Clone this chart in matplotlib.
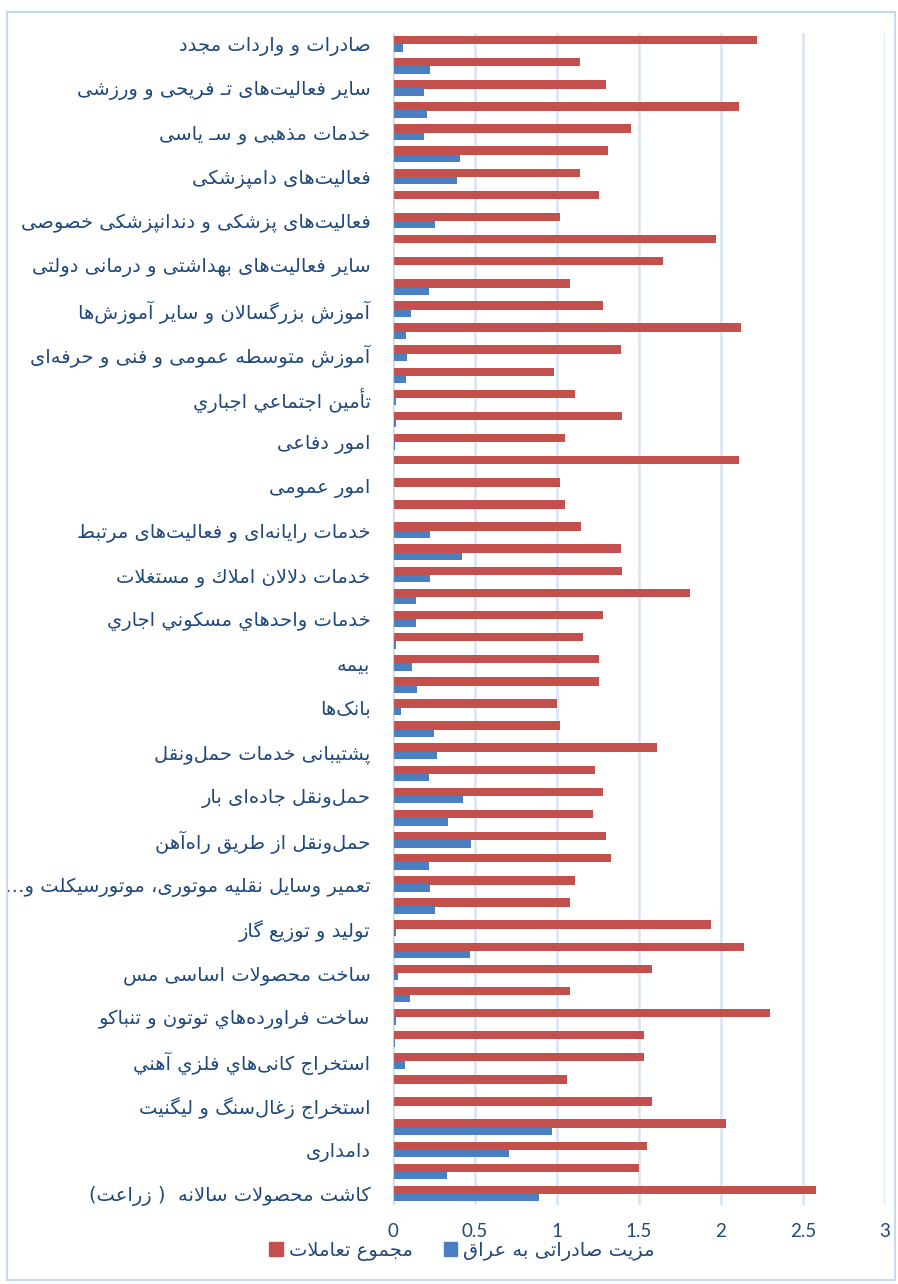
import matplotlib
matplotlib.use('Agg')
import matplotlib.pyplot as plt
from matplotlib.patches import Rectangle, Patch
import numpy as np

# categories shown on the axis (every other bar carries a label), bottom to top
categories = [
    'کاشت محصولات سالانه  ( زراعت)',
    'دامداری',
    'استخراج زغال‌سنگ و لیگنیت',
    'استخراج کانی‌هاي فلزي آهني',
    'ساخت فراورده‌هاي توتون و تنباکو',
    'ساخت محصولات اساسی مس',
    'تولید و توزیع گاز',
    'تعمیر وسایل نقلیه موتوری، موتورسیکلت و…',
    'حمل‌ونقل از طریق راه‌آهن',
    'حمل‌ونقل جاده‌ای بار',
    'پشتیبانی خدمات حمل‌ونقل',
    'بانک‌ها',
    'بیمه',
    'خدمات واحدهاي مسکوني اجاري',
    'خدمات دلالان املاك و مستغلات',
    'خدمات رایانه‌ای و فعالیت‌های مرتبط',
    'امور عمومی',
    'امور دفاعی',
    'تأمین اجتماعي اجباري',
    'آموزش متوسطه عمومی و فنی و حرفه‌ای',
    'آموزش بزرگسالان و سایر آموزش‌ها',
    'سایر فعالیت‌های بهداشتی و درمانی دولتی',
    'فعالیت‌های پزشکی و دندانپزشکی خصوصی',
    'فعالیت‌های دامپزشکی',
    'خدمات مذهبی و سـ یاسی',
    'سایر فعالیت‌های تـ فریحی و ورزشی',
    'صادرات و واردات مجدد',
]

# all 53 bars, bottom to top
total = [2.58, 1.50, 1.55, 2.03, 1.58, 1.06, 1.53, 1.53, 2.30, 1.08,
         1.58, 2.14, 1.94, 1.08, 1.11, 1.33, 1.30, 1.22, 1.28, 1.23,
         1.61, 1.02, 1.00, 1.26, 1.26, 1.16, 1.28, 1.81, 1.40, 1.39,
         1.15, 1.05, 1.02, 2.11, 1.05, 1.40, 1.11, 0.98, 1.39, 2.12,
         1.28, 1.08, 1.65, 1.97, 1.02, 1.26, 1.14, 1.31, 1.45, 2.11,
         1.30, 1.14, 2.22]
advantage = [0.89, 0.33, 0.71, 0.97, 0.01, 0.0, 0.075, 0.014, 0.02, 0.106,
             0.033, 0.47, 0.02, 0.26, 0.23, 0.22, 0.48, 0.34, 0.43, 0.22,
             0.27, 0.25, 0.05, 0.15, 0.12, 0.02, 0.14, 0.14, 0.23, 0.42,
             0.23, 0.0, 0.0, 0.0, 0.014, 0.02, 0.02, 0.08, 0.09, 0.08,
             0.11, 0.22, 0.0, 0.0, 0.26, 0.0, 0.39, 0.41, 0.19, 0.21,
             0.19, 0.23, 0.06]
legend_labels = ['مزیت صادراتی به عراق', 'مجموع تعاملات']
xticks = [0, 0.5, 1, 1.5, 2, 2.5, 3]

# --- tiny arabic/persian shaper (matplotlib has no bidi / joining) ---
DUAL = {'ئ': 0xFE89, 'ب': 0xFE8F, 'ت': 0xFE95, 'ث': 0xFE99, 'ج': 0xFE9D,
        'ح': 0xFEA1, 'خ': 0xFEA5, 'س': 0xFEB1, 'ش': 0xFEB5, 'ص': 0xFEB9,
        'ض': 0xFEBD, 'ط': 0xFEC1, 'ظ': 0xFEC5, 'ع': 0xFEC9, 'غ': 0xFECD,
        'ف': 0xFED1, 'ق': 0xFED5, 'ك': 0xFED9, 'ل': 0xFEDD, 'م': 0xFEE1,
        'ن': 0xFEE5, 'ه': 0xFEE9, 'ي': 0xFEF1, 'پ': 0xFB56, 'چ': 0xFB7A,
        'ک': 0xFB8E, 'گ': 0xFB92, 'ی': 0xFBFC}
RIGHT = {'آ': 0xFE81, 'أ': 0xFE83, 'ؤ': 0xFE85, 'إ': 0xFE87, 'ا': 0xFE8D,
         'ة': 0xFE93, 'د': 0xFEA9, 'ذ': 0xFEAB, 'ر': 0xFEAD, 'ز': 0xFEAF,
         'و': 0xFEED, 'ى': 0xFEEF, 'ژ': 0xFB8A}
LAM_ALEF = {'ا': 0xFEFB, 'آ': 0xFEF5, 'أ': 0xFEF7, 'إ': 0xFEF9}
TATWEEL = 'ـ'


def joins_next(c):
    return c in DUAL or c == TATWEEL


def joins_prev(c):
    return c in DUAL or c in RIGHT or c == TATWEEL


def shape(s):
    out = []
    n = len(s)
    i = 0
    while i < n:
        c = s[i]
        p = i > 0 and joins_next(s[i - 1])
        if c == 'ل' and i + 1 < n and s[i + 1] in LAM_ALEF:
            out.append(chr(LAM_ALEF[s[i + 1]] + (1 if p else 0)))
            i += 2
            continue
        nx = i + 1 < n and joins_prev(s[i + 1])
        if c in DUAL:
            base = DUAL[c]
            if p and nx:
                out.append(chr(base + 3))
            elif p:
                out.append(chr(base + 1))
            elif nx:
                out.append(chr(base + 2))
            else:
                out.append(chr(base))
        elif c in RIGHT:
            out.append(chr(RIGHT[c] + (1 if p else 0)))
        elif c == '\u200c':
            pass
        else:
            out.append(c)
        i += 1
    return ''.join(out)[::-1].translate(str.maketrans('()', ')('))


text_color = '#1f497d'
red = '#c4504d'
blue = '#4a7fc2'
grid_color = '#d6e4f5'

fig = plt.figure(figsize=(8.98, 12.84), dpi=100)
ax = fig.add_axes([392.7 / 898, 1 - 1205 / 1284, 492.3 / 898, 1172 / 1284])

y = np.arange(len(total))
ax.barh(y + 0.18, total, height=0.38, color=red, zorder=3)
ax.barh(y - 0.17, advantage, height=0.34, color=blue, zorder=3)

ax.set_xlim(0, 3)
ax.set_ylim(-0.5, len(total) - 0.5)
ax.set_xticks(xticks)
ax.set_xticklabels([('%g' % t) for t in xticks], family='Lato', fontsize=13.5, color=text_color)
ax.set_yticks(y[::2])
ax.set_yticklabels([shape(c) for c in categories], family=['DejaVu Sans'], fontsize=14, color=text_color)
ax.tick_params(axis='both', length=0)
ax.tick_params(axis='y', pad=16)
ax.tick_params(axis='x', pad=13)
for sp in ax.spines.values():
    sp.set_visible(False)
ax.grid(axis='x', color=grid_color, linewidth=1.8, zorder=0)
ax.axvline(0, color='#c9d3df', linewidth=1.5, zorder=4)

# chart frame
fig.patches.append(Rectangle((7 / 898, 1 - 1280 / 1284), 888 / 898, 1268 / 1284,
                             transform=fig.transFigure, fill=False,
                             edgecolor='#c6d9f1', linewidth=1.5))

handles = [Patch(color=red), Patch(color=blue)]
leg = fig.legend(handles, [shape(legend_labels[1]), shape(legend_labels[0])],
                 loc='center', bbox_to_anchor=(462 / 898, 1 - 1251 / 1284), ncol=2,
                 frameon=False, handlelength=0.7, handleheight=0.7,
                 handletextpad=0.3, columnspacing=1.6,
                 prop={'family': 'DejaVu Sans', 'size': 14})
for t in leg.get_texts():
    t.set_color(text_color)

fig.savefig('out.png', dpi=100)
